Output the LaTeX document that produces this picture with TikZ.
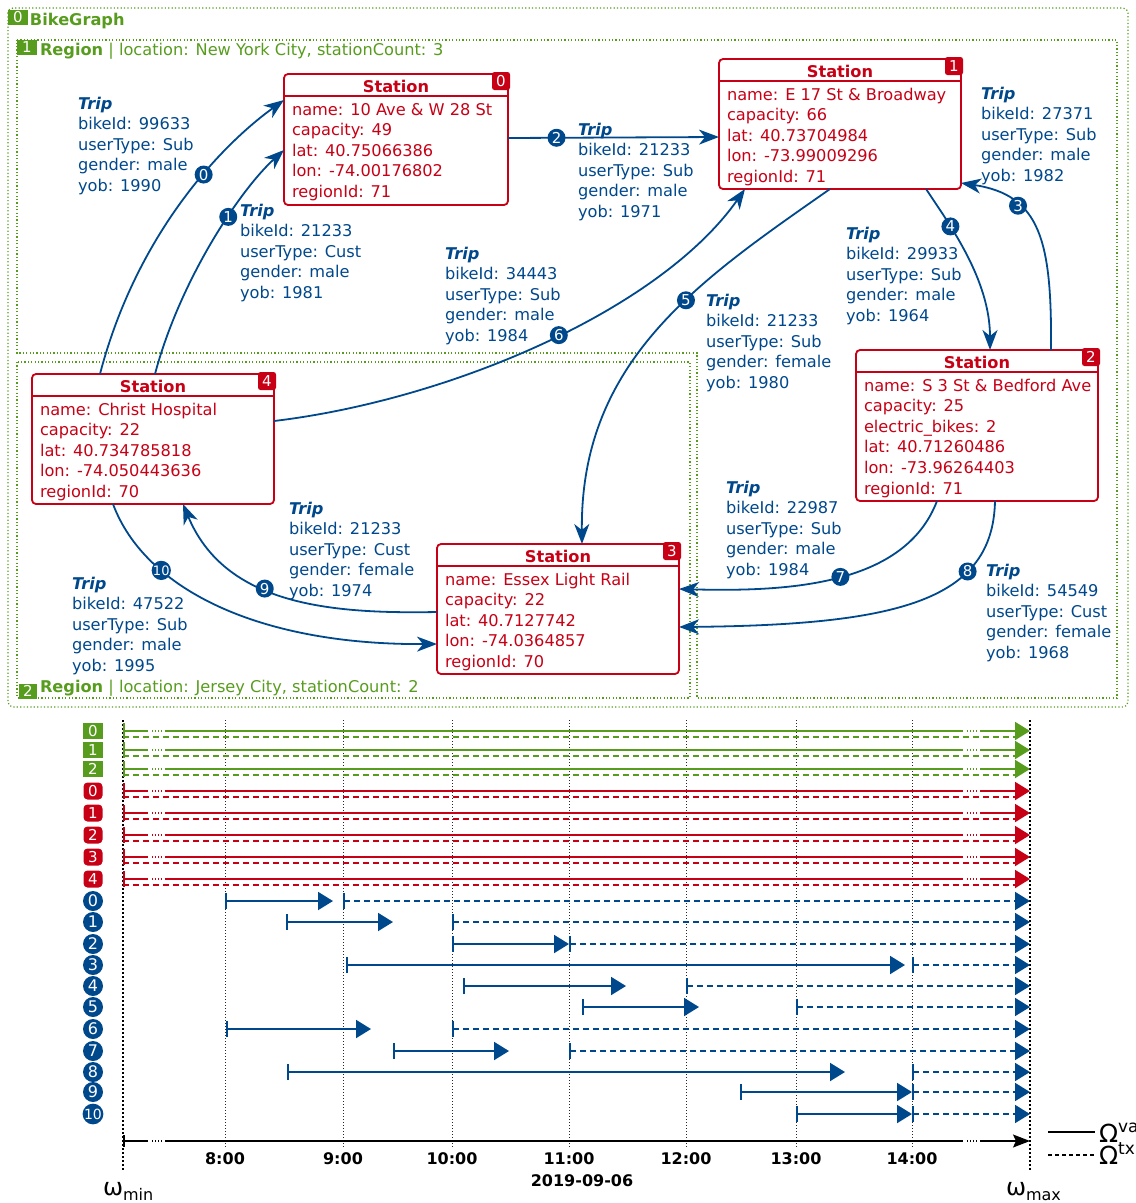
\documentclass[tikz,border=0pt]{standalone}
\usepackage{fontspec}
\setmainfont{DejaVu Sans}
\usetikzlibrary{arrows.meta,calc}
\definecolor{gcol}{RGB}{88,156,30}
\definecolor{rcol}{RGB}{200,0,22}
\definecolor{bcol}{RGB}{0,72,140}
\newcommand\fl{\rule{0pt}{13pt}}
\newcommand\mkstation[7]{%
  \node[stbox, minimum width=#4pt, minimum height=#5pt, anchor=north west] (#1) at (#2,#3) {};
  \node[sttitle] (#1t) at ($(#1.north)+(0,18)$) {Station};
  \draw[rcol, line width=1.5pt] ($(#1.north west)+(0,22)$) -- ($(#1.north east)+(0,22)$);
  \node[sttext] (#1b) at ($(#1.north west)+(8,28)$) {\fl #7};
  \node[rtag] (#1g) at ($(#1.north east)+(-7,7)$) {#6};
}
\newcommand\brk[2]{%
  \fill[white] (148,#1-2) rectangle (165,#1+2);
  \draw[#2, line width=2pt, dash pattern=on 1.3pt off 1.7pt] (152,#1) -- (162,#1);
  \fill[white] (963,#1-2) rectangle (980,#1+2);
  \draw[#2, line width=2pt, dash pattern=on 1.3pt off 1.7pt] (967,#1) -- (977,#1);
}
\begin{document}
\begin{tikzpicture}[x=1pt,y=-1pt,
  every node/.style={inner sep=0pt,outer sep=0pt},
  stbox/.style={draw=rcol, line width=1.8pt, rounded corners=4pt, fill=white},
  sttitle/.style={font=\fontsize{16.2}{20.6}\selectfont\bfseries, text=rcol, anchor=base},
  sttext/.style={font=\fontsize{16.2}{20.6}\selectfont, text=rcol, align=left, anchor=north west},
  rtag/.style={fill=rcol, rounded corners=2.5pt, minimum width=18pt, minimum height=18pt, text=white, font=\fontsize{15}{15}\selectfont},
  gtag/.style={fill=gcol, text=white, font=\fontsize{15}{15}\selectfont},
  btag/.style={circle, fill=bcol, text=white, minimum size=20pt, font=\fontsize{16}{16}\selectfont},
  ecirc/.style={circle, fill=bcol, text=white, minimum size=18pt, font=\fontsize{15}{15}\selectfont},
  trip/.style={font=\fontsize{16.2}{20.6}\selectfont, text=bcol, align=left, anchor=north west},
  tripedge/.style={draw=bcol, line width=1.8pt, -{Stealth[length=20pt,width=15pt,inset=6pt]}},
  gdot/.style={draw=gcol, line width=1.2pt, dash pattern=on 1.2pt off 2.2pt},
  grtxt/.style={font=\fontsize{16.2}{20.6}\selectfont, text=gcol, anchor=base west},
  axlab/.style={font=\fontsize{16}{18}\selectfont\bfseries, anchor=base},
]
\useasboundingbox (0,0) rectangle (1136,1203);
\clip (0,0) rectangle (1136,1203);

% ---------- containers ----------
\draw[gdot, rounded corners=5pt] (8,8) rectangle (1128,707);
\node[gtag, minimum width=20pt, minimum height=15pt] (g0t) at (18,17) {0};
\node[grtxt, font=\fontsize{16.2}{20.6}\selectfont\bfseries] (g0l) at (30,25) {BikeGraph};

\draw[gdot] (17,40) -- (1117,40) -- (1117,698) -- (697,698) -- (697,353) -- (17,353) -- cycle;
\node[gtag, minimum width=20pt, minimum height=15pt] (r1t) at (27,47) {1};
\node[grtxt] (r1l) at (40,55) {\textbf{Region} | location: New York City, stationCount: 3};

\draw[gdot] (17,362) rectangle (690,698);
\node[gtag, minimum width=18pt, minimum height=15pt] (r2t) at (28,691) {2};
\node[grtxt] (r2l) at (40,692) {\textbf{Region} | location: Jersey City, stationCount: 2};

% ---------- stations ----------
\mkstation{s0}{284}{74}{224}{131}{0}{name: 10 Ave \& W 28 St\\capacity: 49\\lat: 40.75066386\\lon: -74.00176802\\regionId: 71}
\mkstation{s1}{719}{59}{242}{130}{1}{name: E 17 St \& Broadway\\capacity: 66\\lat: 40.73704984\\lon: -73.99009296\\regionId: 71}
\mkstation{s2}{856}{350}{242}{151}{2}{name: S 3 St \& Bedford Ave\\capacity: 25\\electric\_bikes: 2\\lat: 40.71260486\\lon: -73.96264403\\regionId: 71}
\mkstation{s3}{437}{544}{242}{130}{3}{name: Essex Light Rail\\capacity: 22\\lat: 40.7127742\\lon: -74.0364857\\regionId: 70}
\mkstation{s4}{32}{374}{242}{130}{4}{name: Christ Hospital\\capacity: 22\\lat: 40.734785818\\lon: -74.050443636\\regionId: 70}

% ---------- trips ----------
\draw[tripedge] ($(s4.north west)+(68,0)$) .. controls (135,240) and (215,150) .. ($(s0.north west)+(0,26)$) node[ecirc,pos=0.62] (c0) {0};
\draw[tripedge] ($(s4.north west)+(123,0)$) .. controls (180,280) and (240,190) .. ($(s0.north west)+(0,76)$) node[ecirc,pos=0.61] (c1) {1};
\draw[tripedge] ($(s0.north east)+(0,64)$) -- ($(s1.north west)+(0,78)$) node[ecirc,pos=0.23] (c2) {2};
\draw[tripedge] ($(s2.north west)+(195,0)$) .. controls (1052,240) and (1040,195) .. ($(s1.north east)+(0,124)$) node[ecirc,pos=0.68] (c3) {3};
\draw[tripedge] ($(s1.south west)+(207,0)$) .. controls (950,225) and (990,280) .. ($(s2.north west)+(134,0)$) node[ecirc,pos=0.3] (c4) {4};
\draw[tripedge] ($(s1.south west)+(111,0)$) .. controls (700,280) and (580,360) .. ($(s3.north west)+(145,0)$) node[ecirc,pos=0.4] (c5) {5};
\draw[tripedge] ($(s4.north east)+(0,47)$) .. controls (450,400) and (660,310) .. ($(s1.south west)+(26,0)$) node[ecirc,pos=0.53] (c6) {6};
\draw[tripedge] ($(s2.south west)+(81,0)$) .. controls (905,585) and (790,592) .. ($(s3.north east)+(0,45)$) node[ecirc,pos=0.49] (c7) {7};
\draw[tripedge] ($(s2.south west)+(139,0)$) .. controls (993,600) and (900,625) .. ($(s3.north east)+(0,83)$) node[ecirc,pos=0.3] (c8) {8};
\draw[tripedge] ($(s3.north west)+(0,68)$) .. controls (330,614) and (225,605) .. ($(s4.south west)+(151,0)$) node[ecirc,pos=0.58] (c9) {9};
\draw[tripedge] ($(s4.south west)+(81,0)$) .. controls (145,590) and (260,645) .. ($(s3.north west)+(0,100)$) node[ecirc,pos=0.29,font=\fontsize{13}{13}\selectfont] (c10) {10};

\node[trip] (l0) at (78,96) {\fl{\bfseries\itshape Trip}\\bikeId: 99633\\userType: Sub\\gender: male\\yob: 1990};
\node[trip] (l1) at (240,203) {\fl{\bfseries\itshape Trip}\\bikeId: 21233\\userType: Cust\\gender: male\\yob: 1981};
\node[trip] (l2) at (578,122) {\fl{\bfseries\itshape Trip}\\bikeId: 21233\\userType: Sub\\gender: male\\yob: 1971};
\node[trip] (l3) at (981,86) {\fl{\bfseries\itshape Trip}\\bikeId: 27371\\userType: Sub\\gender: male\\yob: 1982};
\node[trip] (l4) at (846,226) {\fl{\bfseries\itshape Trip}\\bikeId: 29933\\userType: Sub\\gender: male\\yob: 1964};
\node[trip] (l5) at (706,293) {\fl{\bfseries\itshape Trip}\\bikeId: 21233\\userType: Sub\\gender: female\\yob: 1980};
\node[trip] (l6) at (445,246) {\fl{\bfseries\itshape Trip}\\bikeId: 34443\\userType: Sub\\gender: male\\yob: 1984};
\node[trip] (l7) at (726,480) {\fl{\bfseries\itshape Trip}\\bikeId: 22987\\userType: Sub\\gender: male\\yob: 1984};
\node[trip] (l8) at (986,563) {\fl{\bfseries\itshape Trip}\\bikeId: 54549\\userType: Cust\\gender: female\\yob: 1968};
\node[trip] (l9) at (289,501) {\fl{\bfseries\itshape Trip}\\bikeId: 21233\\userType: Cust\\gender: female\\yob: 1974};
\node[trip] (l10) at (72,576) {\fl{\bfseries\itshape Trip}\\bikeId: 47522\\userType: Sub\\gender: male\\yob: 1995};

% ---------- timeline ----------
\foreach \x/\lab in {225/8:00, 343/9:00, 452/10:00, 569/11:00, 686/12:00, 796/13:00, 912/14:00} {
  \draw[black!85, line width=0.8pt, dash pattern=on 1pt off 2pt] (\x,720) -- (\x,1148);
  \node[axlab] at (\x,1164) {\lab};
}
\node[axlab] (date) at (582,1186) {2019-09-06};
\draw[black, line width=2pt, dash pattern=on 1.5pt off 2.5pt] (123,720) -- (123,1172);
\draw[black, line width=2pt, dash pattern=on 1.5pt off 2.5pt] (1030,720) -- (1030,1172);

\foreach \y/\n in {731/0, 750/1, 769/2} {
  \node[gtag, minimum width=20pt, minimum height=16pt] (gt\n) at (93,\y) {\n};
  \draw[gcol, line width=2pt, {Bar[width=16pt]}-{Triangle[length=15pt,width=18pt]}] (123,\y) -- (1030,\y);
  \draw[gcol, line width=1.8pt, dash pattern=on 6pt off 4pt] (123,\y+6) -- (1016,\y+6);
  \brk{\y}{gcol}
}
\foreach \y/\n in {791/0, 813/1, 835/2, 857/3, 879/4} {
  \node[rtag, minimum width=19pt, minimum height=17pt, rounded corners=4pt] (rt\n) at (93,\y) {\n};
  \draw[rcol, line width=2pt, {Bar[width=16pt]}-{Triangle[length=15pt,width=18pt]}] (123,\y) -- (1030,\y);
  \draw[rcol, line width=1.8pt, dash pattern=on 6pt off 4pt] (123,\y+6) -- (1016,\y+6);
  \brk{\y}{rcol}
}
\foreach \n/\y/\a/\b/\c/\lb in {0/901/225/333/343/0, 1/922/286/393/452/1, 2/944/452/569/569/2, 3/965/346/905/912/3, 4/986/463/626/686/4, 5/1007/582/699/796/5, 6/1029/226/371/452/6, 7/1051/393/509/569/7, 8/1072/287/845/912/8, 9/1092/740/912/912/9, 10/1114/796/912/912/{\fontsize{14}{14}\selectfont 10}} {
  \node[btag] (bt\n) at (93,\y) {\lb};
  \draw[bcol, line width=2pt, {Bar[width=16pt]}-{Triangle[length=15pt,width=18pt]}] (\a,\y) -- (\b,\y);
  \draw[bcol, line width=1.8pt, dash pattern=on 6pt off 4pt, {Bar[width=16pt]}-{Triangle[length=15pt,width=18pt]}] (\c,\y) -- (1030,\y);
}
\draw[black, line width=1.5pt, {Bar[width=12pt]}-{Stealth[length=17pt,width=13pt,inset=3pt]}] (123,1141) -- (1030,1141);
\brk{1141}{black}

\node[anchor=base west] (wmin) at (103,1195) {\fontsize{24}{24}\selectfont ω\raisebox{-5pt}{\fontsize{16}{16}\selectfont min}};
\node[anchor=base west] (wmax) at (1006,1195) {\fontsize{24}{24}\selectfont ω\raisebox{-5pt}{\fontsize{16}{16}\selectfont max}};

\coordinate (lg1a) at (1048,1132);
\coordinate (lg1b) at (1095,1132);
\coordinate (lg2a) at (1048,1155);
\coordinate (lg2b) at (1095,1155);
\draw[black, line width=1.2pt] (lg1a) -- (lg1b);
\draw[black, line width=1.2pt, dash pattern=on 4pt off 3pt] (lg2a) -- (lg2b);
\node[anchor=base west] (ov) at (1099,1142) {\fontsize{25}{25}\selectfont Ω\raisebox{10pt}{\fontsize{17}{17}\selectfont val}};
\node[anchor=base west] (ot) at (1099,1164) {\fontsize{25}{25}\selectfont Ω\raisebox{10pt}{\fontsize{17}{17}\selectfont tx}};
\end{tikzpicture}
\end{document}
